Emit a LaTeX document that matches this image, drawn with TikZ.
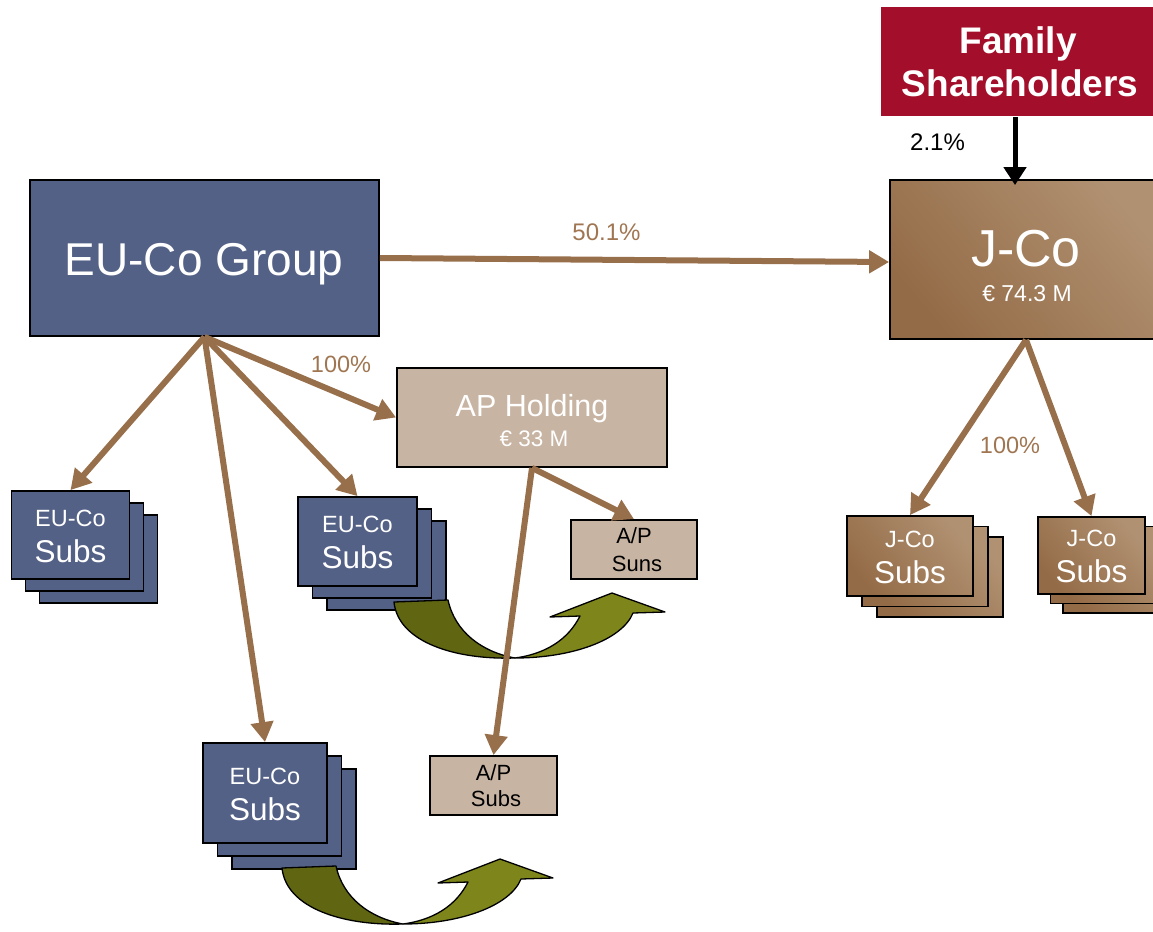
\documentclass[tikz,border=0pt]{standalone}
\usepackage{fontspec}
\setmainfont{Liberation Sans}
\usetikzlibrary{arrows.meta,calc}
\definecolor{eublue}{RGB}{84,97,134}
\definecolor{jdark}{RGB}{148,107,71}
\definecolor{jlight}{RGB}{176,145,113}
\definecolor{aptan}{RGB}{200,180,163}
\definecolor{famred}{RGB}{163,15,43}
\definecolor{brownln}{RGB}{152,111,75}
\definecolor{olivedark}{RGB}{95,101,17}
\definecolor{olivelight}{RGB}{126,133,26}
\definecolor{pctbrown}{RGB}{160,118,82}
\tikzset{
  box/.style={draw=black, line width=1.8pt, inner sep=0pt},
  eubox/.style={box, fill=eublue},
  jbox/.style={box, top color=jlight, bottom color=jdark, shading angle=-50},
  aptbox/.style={box, fill=aptan},
  own/.style={draw=brownln, line width=6pt, -{Triangle[length=20pt,width=22pt]}},
  pct/.style={text=pctbrown, anchor=base, font=\fontsize{23.5}{28}\selectfont},
  wtxt/.style={text=white, anchor=base, inner sep=0pt},
  btxt/.style={text=black, anchor=base, inner sep=0pt, font=\fontsize{22}{26}\selectfont},
  subtop/.style={wtxt, font=\fontsize{23.5}{28}\selectfont},
  subbot/.style={wtxt, font=\fontsize{31.5}{36}\selectfont},
  pics/uturn/.style={code={
    \draw[fill=olivedark, line width=1.3pt, line join=round]
      (394,602) .. controls (398,642) and (455,660) .. (515,658)
      .. controls (482,652) and (455,632) .. (448,600) -- cycle;
    \draw[fill=olivelight, line width=1.3pt, line join=round]
      (515,658) .. controls (572,658) and (622,640) .. (633,613)
      -- (665,612) -- (612,593) -- (550,617) -- (580,616)
      .. controls (568,640) and (545,654) .. (515,658) -- cycle;
  }}
}
% #1 name, #2 box style, #3 x, #4 y, #5 w, #6 h, #7 dx, #8 dy, #9 top word
\newcommand{\stackboxes}[9]{%
  \node[#2, minimum width=#5pt, minimum height=#6pt] (#1c) at ({#3+2*#7},{#4+2*#8}) {};
  \node[#2, minimum width=#5pt, minimum height=#6pt] (#1b) at ({#3+#7},{#4+#8}) {};
  \node[#2, minimum width=#5pt, minimum height=#6pt] (#1) at (#3,#4) {};
  \node[subtop] (#1t) at ({#3},{#4-9}) {#9};
  \node[subbot] (#1s) at ({#3},{#4+27}) {Subs};
}
\begin{document}
\begin{tikzpicture}[x=1pt,y=-1pt]
\useasboundingbox (0,0) rectangle (1153,931);
\clip (0,0) rectangle (1153,931);

% main boxes
\node[box, draw=none, fill=famred, minimum width=278pt, minimum height=109pt] (fam) at (1020,61.5) {};
\node[wtxt, font=\bfseries\fontsize{37}{44}\selectfont] (famt1) at (1018,53.3) {Family};
\node[wtxt, font=\bfseries\fontsize{37}{44}\selectfont] (famt2) at (1020,96.7) {Shareholders};

\node[jbox, minimum width=272pt, minimum height=159pt] (jco) at (1026,259.5) {};
\node[wtxt, font=\fontsize{52}{56}\selectfont] (jcot1) at (1026,266.6) {J-Co};
\node[wtxt, font=\fontsize{23}{26}\selectfont] (jcot2) at (1027,301) {€ 74.3 M};

\node[eubox, minimum width=349pt, minimum height=156pt] (eu) at (204.5,258) {};
\node[wtxt, font=\fontsize{46}{50}\selectfont] (eut) at (204,275) {EU-Co Group};

\node[aptbox, minimum width=270pt, minimum height=99pt] (aph) at (532,417.5) {};
\node[wtxt, font=\fontsize{30.5}{34}\selectfont] (apht1) at (532,416.5) {AP Holding};
\node[wtxt, font=\fontsize{22.5}{26}\selectfont] (apht2) at (534,446) {€ 33 M};

\node[aptbox, minimum width=126pt, minimum height=59pt] (apsuns) at (634,549.5) {};
\node[btxt] (apsunst1) at (634,543) {A/P};
\node[btxt] (apsunst2) at (637,571.7) {Suns};

\node[aptbox, minimum width=127pt, minimum height=59pt] (apsubs) at (493.5,785.5) {};
\node[btxt] (apsubst1) at (493.5,780) {A/P};
\node[btxt] (apsubst2) at (496,806.7) {Subs};

% EU-Co Subs stacks
\stackboxes{eus1}{eubox}{70.5}{535}{118}{88}{14}{12}{EU-Co}
\stackboxes{eus2}{eubox}{357.5}{541.5}{119}{89}{14.5}{12}{EU-Co}
\stackboxes{eus3}{eubox}{265}{793}{124}{100}{14.5}{13}{EU-Co}

% J-Co Subs stacks
\stackboxes{js1}{jbox}{910}{556}{126}{80}{15}{10.5}{J-Co}
\stackboxes{js2}{jbox}{1091.5}{555.5}{107}{77}{12.5}{9.5}{J-Co}

% green U-turn arrows
\pic (ga) at (0,0) {uturn};
\pic (gb) at (-112,266) {uturn};

% ownership arrows
\draw[own] (eu.east) -- ($(jco.west)+(0,2.5)$);
\draw[own] (eu.south) -- (eus1.north);
\draw[own] (eu.south) -- (eus2.north);
\draw[own] (eu.south) -- (eus3.north);
\draw[own] (eu.south) -- (aph.west);
\draw[own] (aph.south) -- (apsuns.north);
\draw[own] (aph.south) -- (apsubs.north);
\draw[own] (jco.south) -- (js1.north);
\draw[own] (jco.south) -- (js2.north);

\coordinate (famout) at ($(fam.south)+(-5,0)$);
\coordinate (jtop) at ($(jco.north)+(-11,6)$);
\draw[line width=5pt, -{Triangle[length=18pt,width=22pt]}] (famout) -- (jtop);

% labels
\node[pct, font=\fontsize{24}{28}\selectfont] (l501) at (606.5,240.7) {50.1\%};
\node[pct] (l100a) at (341,372.3) {100\%};
\node[pct] (l100b) at (1010,453.5) {100\%};
\node[anchor=base, font=\fontsize{24}{28}\selectfont] (l21) at (937.5,150) {2.1\%};
\end{tikzpicture}
\end{document}
